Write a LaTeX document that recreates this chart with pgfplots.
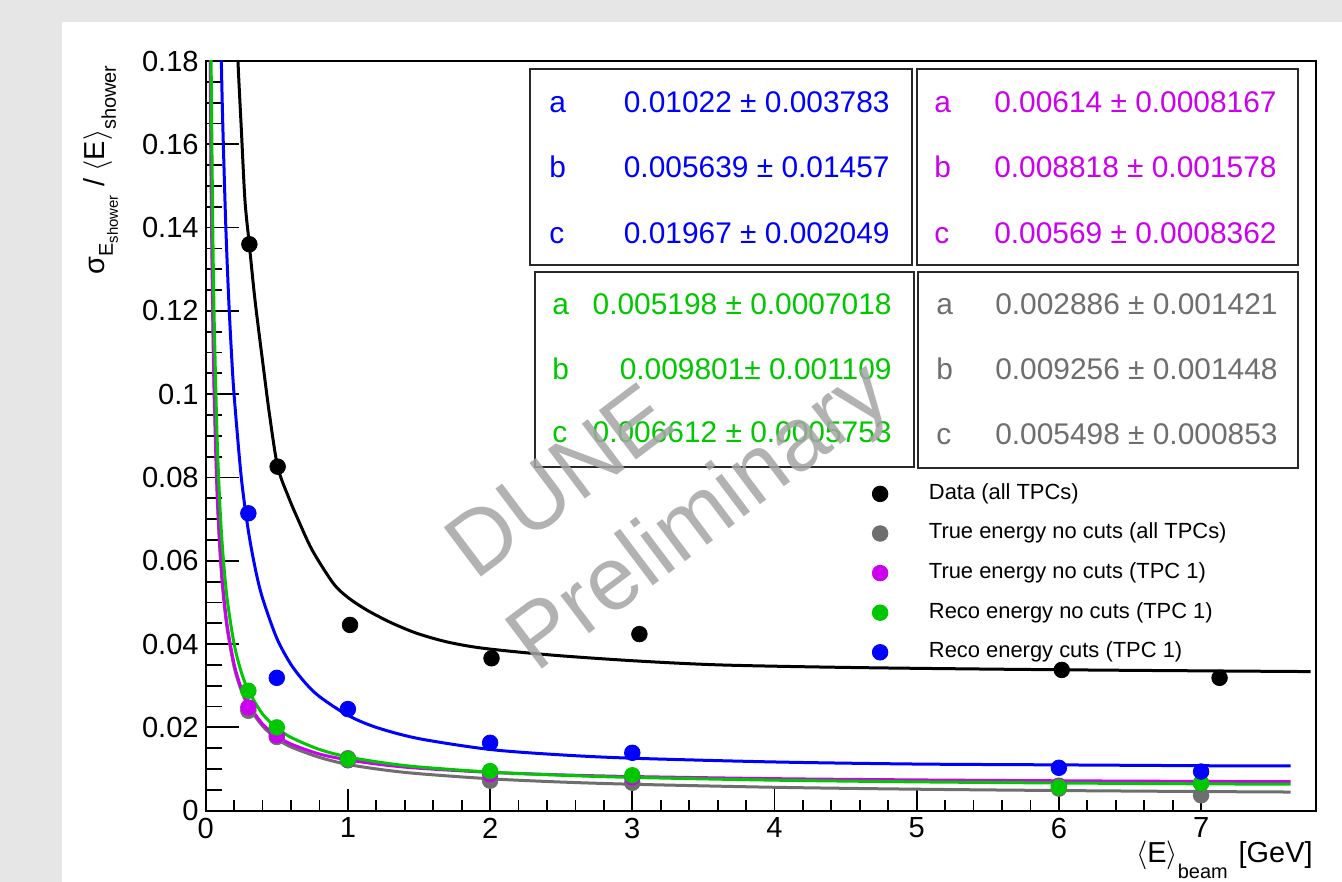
\documentclass[border=0pt]{standalone}
\usepackage{fontspec}
\setmainfont{Liberation Sans}
\usepackage{pgfplots}
\pgfplotsset{compat=1.18}
\definecolor{rblue}{RGB}{0,0,255}
\definecolor{rmag}{RGB}{204,0,238}
\definecolor{rgreen}{RGB}{0,200,0}
\definecolor{rgray}{RGB}{110,110,110}
\definecolor{bggray}{RGB}{230,230,230}
\definecolor{wmark}{RGB}{165,165,165}
\definecolor{boxline}{RGB}{40,40,40}
\newcommand{\statfont}{\fontsize{15}{17}\selectfont}

\begin{document}
\begin{tikzpicture}
\useasboundingbox (0,0) rectangle (671bp,441bp);
\clip (0,0) rectangle (671bp,441bp);
\fill[bggray] (0,0) rectangle (671bp,441bp);
\fill[white] (31bp,0) rectangle (671bp,430bp);

\begin{axis}[
  at={(102.85bp,35.65bp)}, anchor=south west,
  scale only axis, width=555bp, height=374.85bp,
  xmin=0, xmax=7.806, ymin=0, ymax=0.18,
  axis line style={line width=1.1bp},
  tick align=inside, xtick pos=bottom, ytick pos=left,
  xtick={0,1,2,3,4,5,6,7}, minor x tick num=4,
  ytick={0,0.02,0.04,0.06,0.08,0.1,0.12,0.14,0.16,0.18},
  yticklabels={0,0.02,0.04,0.06,0.08,0.1,0.12,0.14,0.16,0.18},
  minor y tick num=3,
  tick style={black, line width=0.9bp},
  every major x tick/.append style={/pgfplots/major tick length=11bp},
  every minor x tick/.append style={/pgfplots/minor tick length=5.5bp},
  every major y tick/.append style={/pgfplots/major tick length=16.5bp},
  every minor y tick/.append style={/pgfplots/minor tick length=8bp},
  /pgf/number format/assume math mode=true,
  ticklabel style={font=\fontsize{14.6}{16}\selectfont},
  legend cell align=left,
  legend style={draw=none, fill=none, inner sep=0pt,
    at={(0.6002,0.4371)}, anchor=north west,
    font=\fontsize{11}{13}\selectfont, row sep=9.3bp, column sep=20.5bp,
    nodes={inner sep=0pt, text height=8bp, text depth=2.5bp}},
]
% fit curves
\addplot[rgray, line width=1.5bp, smooth, forget plot] coordinates {
 (0.03,0.1909)(0.035,0.1647)(0.04,0.1451)(0.05,0.1175)(0.06,0.0992)(0.08,0.0762)
 (0.1,0.0624)(0.12,0.0531)(0.15,0.0439)(0.2,0.0345)(0.25,0.0289)(0.3,0.0251)
 (0.4,0.0203)(0.5,0.0173)(0.6,0.0153)(0.8,0.0128)(1.0,0.0111)(1.25,0.0098)
 (1.5,0.00888)(2,0.00766)(2.5,0.00688)(3,0.00635)(4,0.00562)(5,0.00516)
 (6,0.00484)(7,0.00460)(7.63,0.00448)};
\addplot[rmag, line width=1.5bp, smooth, forget plot] coordinates {
 (0.03,0.1965)(0.035,0.1694)(0.04,0.1491)(0.05,0.1206)(0.06,0.1016)(0.08,0.0779)
 (0.1,0.0637)(0.12,0.0542)(0.15,0.0447)(0.2,0.0352)(0.25,0.0294)(0.3,0.0256)
 (0.4,0.0208)(0.5,0.0180)(0.6,0.0160)(0.8,0.0136)(1.0,0.0122)(1.25,0.0110)
 (1.5,0.0102)(2,0.00920)(2.5,0.00860)(3,0.00820)(4,0.00769)(5,0.00739)
 (6,0.00718)(7,0.00703)(7.63,0.00696)};
\addplot[rgreen, line width=1.5bp, smooth, forget plot] coordinates {
 (0.03,0.2276)(0.035,0.1961)(0.04,0.1725)(0.05,0.1394)(0.06,0.1174)(0.08,0.0898)
 (0.1,0.0732)(0.12,0.0622)(0.15,0.0511)(0.2,0.0400)(0.25,0.0333)(0.3,0.0289)
 (0.4,0.0232)(0.5,0.0199)(0.6,0.0176)(0.8,0.0147)(1.0,0.0129)(1.25,0.0115)
 (1.5,0.0105)(2,0.00927)(2.5,0.00851)(3,0.00799)(4,0.00733)(5,0.00692)
 (6,0.00665)(7,0.00645)(7.63,0.00635)};
\addplot[rblue, line width=1.5bp, smooth, forget plot] coordinates {
 (0.1,0.1978)(0.11,0.1799)(0.12,0.1650)(0.14,0.1417)(0.16,0.1242)(0.18,0.1106)
 (0.2,0.0997)(0.25,0.0801)(0.3,0.0672)(0.35,0.0579)(0.4,0.0510)(0.5,0.0414)
 (0.6,0.0351)(0.7,0.0307)(0.8,0.0274)(1.0,0.0229)(1.2,0.0200)(1.5,0.0173)
 (2,0.0147)(2.5,0.0134)(3,0.0126)(4,0.0117)(5,0.0112)(6,0.0110)(7,0.0108)
 (7.63,0.01074)};
\addplot[black, line width=1.5bp, smooth, forget plot] coordinates {
 (0.20,0.205)(0.227,0.180)(0.25,0.164)(0.276,0.1466)(0.3066,0.1360)(0.3467,0.1226)
 (0.405,0.1066)(0.45,0.0948)(0.506,0.0826)(0.58,0.0755)(0.651,0.0698)(0.75,0.0625)
 (0.897,0.0546)(1.0,0.0512)(1.132,0.0482)(1.3,0.0452)(1.484,0.0426)(1.7,0.0405)
 (1.952,0.0390)(2.421,0.0374)(3.007,0.0360)(3.617,0.0350)(4.5,0.0344)(5.5,0.0340)
 (6.5,0.0337)(7.77,0.0334)};
% data points
\addplot[only marks, mark=*, mark size=3.9bp, black] coordinates {
 (0.307,0.1360)(0.506,0.0826)(1.015,0.0446)(2.01,0.0366)(3.05,0.0424)(6.02,0.0338)(7.13,0.0319)};
\addlegendentry{Data (all TPCs)}
\addplot[only marks, mark=*, mark size=3.9bp, rgray] coordinates {
 (0.3,0.0240)(0.5,0.0177)(1,0.0126)(2,0.0072)(3,0.0067)(6,0.0053)(7,0.0037)};
\addlegendentry{True energy no cuts (all TPCs)}
\addplot[only marks, mark=*, mark size=3.9bp, rmag] coordinates {
 (0.3,0.0248)(0.5,0.0181)(1,0.0121)(2,0.0088)(3,0.0080)(6,0.0060)(7,0.0066)};
\addlegendentry{True energy no cuts (TPC 1)}
\addplot[only marks, mark=*, mark size=3.9bp, rgreen] coordinates {
 (0.3,0.0288)(0.5,0.0200)(1,0.0123)(2,0.0095)(3,0.0085)(6,0.0057)(7,0.0066)};
\addlegendentry{Reco energy no cuts (TPC 1)}
\addplot[only marks, mark=*, mark size=3.9bp, rblue] coordinates {
 (0.3,0.0714)(0.5,0.0319)(1,0.0244)(2,0.0163)(3,0.0139)(6,0.0103)(7,0.0094)};
\addlegendentry{Reco energy cuts (TPC 1)}
\end{axis}

\begin{scope}[shift={(0bp,441bp)},x=0.5bp,y=-0.5bp]
% fit parameter boxes
\draw[boxline,line width=1bp] (530,69) rectangle (912,265);
\draw[boxline,line width=1bp] (917,69) rectangle (1298,265);
\draw[boxline,line width=1bp] (535,272) rectangle (914,467);
\draw[boxline,line width=1bp] (918,272) rectangle (1298,468);
\begin{scope}[every node/.style={inner sep=0pt, font=\statfont}]
\node[anchor=base west, text=rblue] at (549,113) {a};
\node[anchor=base west, text=rblue] at (549,178) {b};
\node[anchor=base west, text=rblue] at (549,244) {c};
\node[anchor=base east, text=rblue] at (890,113) {0.01022 ± 0.003783};
\node[anchor=base east, text=rblue] at (890,178) {0.005639 ± 0.01457};
\node[anchor=base east, text=rblue] at (890,244) {0.01967 ± 0.002049};
\node[anchor=base west, text=rmag] at (934,113) {a};
\node[anchor=base west, text=rmag] at (934,178) {b};
\node[anchor=base west, text=rmag] at (934,244) {c};
\node[anchor=base east, text=rmag] at (1277,113) {0.00614 ± 0.0008167};
\node[anchor=base east, text=rmag] at (1277,178) {0.008818 ± 0.001578};
\node[anchor=base east, text=rmag] at (1277,244) {0.00569 ± 0.0008362};
\node[anchor=base west, text=rgreen] at (552,315) {a};
\node[anchor=base west, text=rgreen] at (552,380) {b};
\node[anchor=base west, text=rgreen] at (552,443) {c};
\node[anchor=base east, text=rgreen] at (892,315) {0.005198 ± 0.0007018};
\node[anchor=base east, text=rgreen] at (892,380) {0.009801± 0.001109};
\node[anchor=base east, text=rgreen] at (892,443) {0.006612 ± 0.0005753};
\node[anchor=base west, text=rgray] at (936,315) {a};
\node[anchor=base west, text=rgray] at (936,380) {b};
\node[anchor=base west, text=rgray] at (936,445) {c};
\node[anchor=base east, text=rgray] at (1278,315) {0.002886 ± 0.001421};
\node[anchor=base east, text=rgray] at (1278,380) {0.009256 ± 0.001448};
\node[anchor=base east, text=rgray] at (1278,445) {0.005498 ± 0.000853};
\end{scope}
% axis titles
\node[anchor=base east, inner sep=0pt] at (1313,863)
  {\fontsize{14.5}{16}\selectfont$\langle$E$\rangle$\raisebox{-8bp}{\fontsize{10}{12}\selectfont beam}\hspace{5.5bp}[GeV]};
\node[anchor=base east, rotate=90, inner sep=0pt] at (105,65)
  {\fontsize{14.5}{16}\selectfont σ\raisebox{-4bp}{\fontsize{10}{11}\selectfont E\raisebox{-2.5bp}{\fontsize{7.5}{8}\selectfont shower}}\hspace{4.5bp}/\hspace{3.5bp}$\langle$E$\rangle$\raisebox{-5.5bp}{\fontsize{10}{11}\selectfont shower}};
% watermark
\node[rotate=37, text=wmark, opacity=0.85, font=\fontsize{45}{45}\selectfont] at (559,481) {DUNE};
\node[rotate=37, text=wmark, opacity=0.85, font=\fontsize{45}{45}\selectfont] at (702,520) {Preliminary};
\end{scope}
\end{tikzpicture}
\end{document}
